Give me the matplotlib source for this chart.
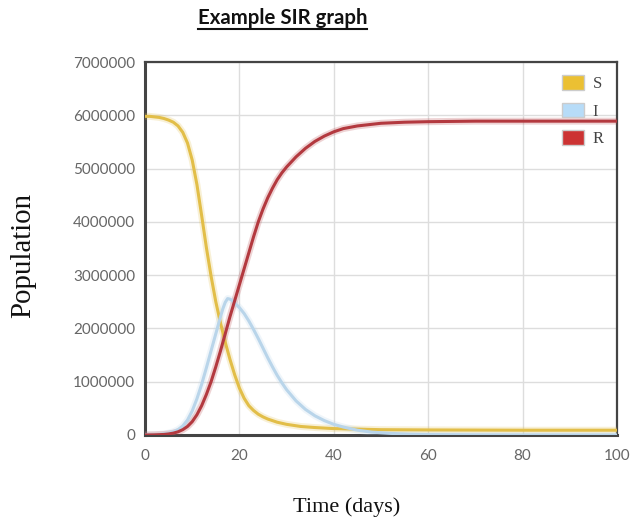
import matplotlib
matplotlib.use("Agg")
import matplotlib.pyplot as plt
from matplotlib.lines import Line2D
from matplotlib.patches import Patch
from matplotlib.ticker import FuncFormatter

# ---- data (values in millions of persons) ----
days_S = [0, 1, 2, 3, 4, 5, 6, 7, 8, 9, 10, 11, 12, 13, 14, 15, 16, 17, 18, 19, 20, 21, 22,
          23, 24, 25, 26, 28, 30, 33, 36, 40, 45, 50, 60, 80, 100]
S_vals = [5.98, 5.98, 5.97, 5.96, 5.94, 5.91, 5.87, 5.80, 5.68, 5.48, 5.16, 4.70, 4.12, 3.52,
          2.98, 2.50, 2.10, 1.74, 1.42, 1.13, 0.88, 0.69, 0.55, 0.46, 0.39, 0.34, 0.30, 0.24,
          0.20, 0.16, 0.14, 0.12, 0.11, 0.10, 0.095, 0.09, 0.09]

days_I = [0, 1, 2, 3, 4, 5, 6, 7, 8, 9, 10, 11, 12, 13, 14, 15, 16, 16.5, 17, 17.5, 18, 18.5,
          19, 20, 21, 22, 23, 24, 25, 26, 27, 28, 29, 30, 32, 34, 36, 38, 40, 42, 45, 48, 52,
          56, 60, 70, 80, 100]
I_vals = [0.0, 0.002, 0.005, 0.01, 0.02, 0.035, 0.06, 0.10, 0.17, 0.28, 0.45, 0.68, 0.95,
          1.26, 1.58, 1.90, 2.22, 2.37, 2.49, 2.56, 2.55, 2.52, 2.48, 2.39, 2.28, 2.14, 1.98,
          1.81, 1.63, 1.45, 1.28, 1.12, 0.98, 0.85, 0.64, 0.48, 0.36, 0.27, 0.20, 0.15, 0.09,
          0.055, 0.03, 0.015, 0.008, 0.002, 0.0, 0.0]

days_R = [0, 2, 4, 5, 6, 7, 8, 9, 10, 11, 12, 13, 14, 15, 16, 17, 18, 19, 20, 21, 22, 23, 24,
          25, 26, 27, 28, 29, 30, 32, 34, 36, 38, 40, 42, 45, 50, 55, 60, 70, 100]
R_vals = [0.0, 0.003, 0.01, 0.02, 0.035, 0.06, 0.10, 0.16, 0.25, 0.38, 0.55, 0.76, 1.00, 1.28,
          1.58, 1.90, 2.22, 2.52, 2.82, 3.12, 3.42, 3.72, 4.00, 4.24, 4.45, 4.63, 4.79, 4.92,
          5.03, 5.22, 5.38, 5.51, 5.61, 5.69, 5.75, 5.80, 5.85, 5.87, 5.88, 5.89, 5.89]

series_names = ["S", "I", "R"]
line_colors = ["#E2BE48", "#B9D5EA", "#B3393F"]
legend_colors = ["#EBC033", "#B7DCF8", "#CC3333"]

x_ticks = [0, 20, 40, 60, 80, 100]
y_ticks = [0, 1000000, 2000000, 3000000, 4000000, 5000000, 6000000, 7000000]

W, H = 631, 522

# ---- figure ----
fig = plt.figure(figsize=(W / 100, H / 100), dpi=100)
ax = fig.add_axes([145 / W, 87 / H, 472 / W, 373 / H])

data = [(days_S, S_vals), (days_I, I_vals), (days_R, R_vals)]
for (d, v), c in zip(data, line_colors):
    vv = [x * 1e6 for x in v]
    ax.plot(d, vv, color=c, lw=5.0, alpha=0.22, solid_capstyle="round",
            solid_joinstyle="round", zorder=3)
    ax.plot(d, vv, color=c, lw=2.2, solid_capstyle="round", solid_joinstyle="round", zorder=4)

ax.set_xlim(0, 100)
ax.set_ylim(0, 7000000)
ax.set_xticks(x_ticks)
ax.set_yticks(y_ticks)
ax.yaxis.set_major_formatter(FuncFormatter(lambda v, p: f"{int(v)}"))
ax.grid(True, color="#DDDDDD", lw=1)
ax.set_axisbelow(True)
ax.tick_params(length=0, labelcolor="#666666", labelsize=11)
ax.tick_params(axis="y", pad=7)
ax.tick_params(axis="x", pad=10)
for lab in ax.get_xticklabels() + ax.get_yticklabels():
    lab.set_family(["Lato", "DejaVu Sans"])

for side, lw in [("left", 2.2), ("bottom", 2.2), ("top", 1.6), ("right", 1.6)]:
    ax.spines[side].set_color("#444444")
    ax.spines[side].set_linewidth(lw)

fig.text(23 / W, 1 - 256 / H, "Population", rotation=90, ha="center", va="center",
         family=["Liberation Serif"], fontsize=20.8, color="#111111")
fig.text(347 / W, 1 - 507 / H, "Time (days)", ha="center", va="center",
         family=["Liberation Serif"], fontsize=16, color="#111111")

handles = [Patch(facecolor=fc, edgecolor="#CCCCCC", lw=1) for fc in legend_colors]
leg = ax.legend(handles, series_names, loc="upper right", frameon=False,
                prop={"family": "Liberation Serif", "size": 12},
                handlelength=1.35, handleheight=1.0, labelspacing=0.6,
                handletextpad=0.5, borderaxespad=0.4, bbox_to_anchor=(1.0, 1.0))
for t in leg.get_texts():
    t.set_color("#444444")

title = fig.text(282.5 / W, 1 - 18 / H, "Example SIR graph",
                 ha="center", va="center", fontsize=14.7, fontweight="bold",
                 family=["Lato", "DejaVu Sans"], color="#111111")
fig.canvas.draw()
bb = title.get_window_extent(fig.canvas.get_renderer())
inv = fig.transFigure.inverted()
(x0, y0), (x1, y1) = inv.transform([(bb.x0, bb.y0), (bb.x1, bb.y1)])
fig.add_artist(Line2D([x0, x1], [y0 - 0.001, y0 - 0.001], transform=fig.transFigure,
                      color="#111111", lw=1.5))

fig.savefig("out.png", dpi=100)
